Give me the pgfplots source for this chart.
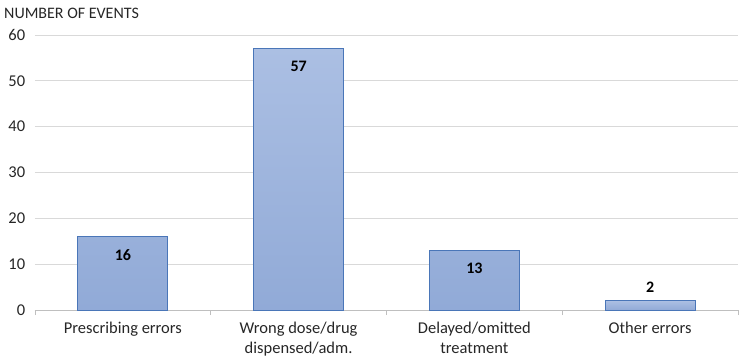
\documentclass[border=0pt]{standalone}
\usepackage{pgfplots}
\pgfplotsset{compat=1.18}
\usepackage{fontspec}
\setmainfont{Carlito}
\definecolor{barA}{HTML}{ABBFE3}
\definecolor{barB}{HTML}{91AAD7}
\definecolor{barEdge}{HTML}{4A76B8}
\definecolor{gridc}{HTML}{D9D9D9}
\definecolor{axc}{HTML}{BFBFBF}
\begin{document}
\begin{tikzpicture}
\begin{axis}[
  scale only axis,
  width=703pt, height=275pt,
  ymin=0, ymax=60, ytick={0,10,...,60},
  xmin=-0.5, xmax=3.5,
  xtick={0,1,2,3},
  xticklabels={Prescribing errors, {Wrong dose/drug\\dispensed/adm.}, {Delayed/omitted\\treatment}, Other errors},
  xticklabel style={align=center, font=\fontsize{16.5}{20}\selectfont, text=black!85},
  yticklabel style={font=\fontsize{16.5}{19}\selectfont, text=black!85},
  /pgf/number format/assume math mode=true,
  major x tick style={draw=none},
  minor xtick={-0.5,0.5,1.5,2.5,3.5},
  minor x tick style={draw=axc, line width=0.8pt},
  minor tick length=5pt,
  tick align=outside,
  major y tick style={draw=none},
  ymajorgrids, grid style={draw=gridc, line width=0.8pt},
  axis x line*=bottom, axis y line*=left,
  x axis line style={draw=axc, line width=0.8pt, -},
  y axis line style={draw=none},
  yticklabel shift=2pt,
  bar width=90pt,
  bar shift=0pt,
  clip=false,
  xticklabel shift=4pt,
]
\addplot[ybar, draw=barEdge, line width=0.9pt, top color=barA, bottom color=barB,
  nodes near coords, every node near coord/.append style={anchor=north, yshift=-9pt, font=\bfseries\fontsize{16}{18}\selectfont, text=black}]
  coordinates {(0,16) (1,57) (2,13)};
\addplot[ybar, draw=barEdge, line width=0.9pt, top color=barA, bottom color=barB,
  nodes near coords, every node near coord/.append style={anchor=south, yshift=5pt, font=\bfseries\fontsize{16}{18}\selectfont, text=black}]
  coordinates {(3,2)};
\node[anchor=south west, font=\fontsize{16}{18}\selectfont, text=black!85, inner sep=0pt] at ([xshift=-31pt, yshift=16pt]rel axis cs:0,1) {NUMBER OF EVENTS};
\path ([xshift=-35pt, yshift=-54pt]rel axis cs:0,0) rectangle ([xshift=17pt, yshift=35pt]rel axis cs:1,1);
\end{axis}
\end{tikzpicture}
\end{document}
